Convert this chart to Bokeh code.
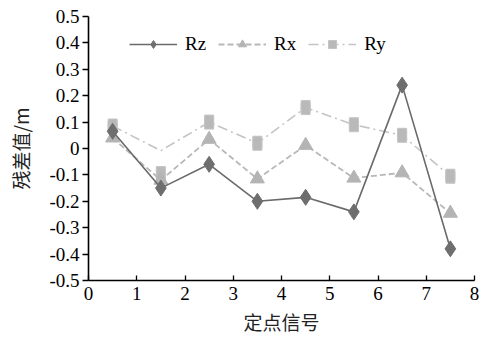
from bokeh.plotting import figure
from bokeh.models import FixedTicker, CustomJSTickFormatter, Legend, LegendItem
from bokeh.embed import file_html
from bokeh.resources import INLINE

x = [0.5, 1.5, 2.5, 3.5, 4.5, 5.5, 6.5, 7.5]
rz = [0.065, -0.15, -0.06, -0.20, -0.185, -0.24, 0.24, -0.38]
rx = [0.04, -0.12, 0.035, -0.115, 0.012, -0.112, -0.092, -0.245]
ry_line = [0.085, -0.008, 0.10, 0.02, 0.155, 0.09, 0.05, -0.105]
ry_pts = [0.085, -0.095, 0.10, 0.02, 0.155, 0.09, 0.05, -0.105]
x_ticks = [0, 1, 2, 3, 4, 5, 6, 7, 8]
y_ticks = [-0.5, -0.4, -0.3, -0.2, -0.1, 0, 0.1, 0.2, 0.3, 0.4, 0.5]

SERIF = "Liberation Serif"
CJK = "Noto Sans CJK SC"

p = figure(width=481, height=339, output_backend="svg", toolbar_location=None,
           x_range=(0, 8), y_range=(-0.5, 0.5),
           min_border_left=88, min_border_right=7, min_border_top=16, min_border_bottom=59)
p.outline_line_color = None
p.grid.visible = False
p.background_fill_color = "white"
p.border_fill_color = "white"

xa = p.xaxis[0]
xa.ticker = FixedTicker(ticks=x_ticks)
xa.major_tick_in = 5
xa.major_tick_out = 0
xa.minor_tick_line_color = None
xa.axis_line_width = 1.6
xa.major_tick_line_width = 1.3
xa.major_label_text_font = SERIF
xa.major_label_text_font_size = "19px"
xa.major_label_text_color = "black"
xa.major_label_standoff = 6
xa.axis_label = "定点信号"
xa.axis_label_text_font = CJK
xa.axis_label_text_font_size = "19px"
xa.axis_label_text_font_style = "normal"
xa.axis_label_text_color = "#222222"
xa.axis_label_standoff = 5

ya = p.yaxis[0]
ya.ticker = FixedTicker(ticks=y_ticks)
ya.formatter = CustomJSTickFormatter(code="return Math.abs(tick) < 1e-9 ? '0' : tick.toFixed(1);")
ya.major_tick_in = 0
ya.major_tick_out = 6
ya.minor_tick_line_color = None
ya.axis_line_width = 1.6
ya.major_tick_line_width = 1.3
ya.major_label_text_font = SERIF
ya.major_label_text_font_size = "19px"
ya.major_label_text_color = "black"
ya.major_label_standoff = 3
ya.axis_label = "残差值/m"
ya.axis_label_text_font = CJK
ya.axis_label_text_font_size = "19px"
ya.axis_label_text_font_style = "normal"
ya.axis_label_text_color = "#222222"
ya.axis_label_standoff = 12

# Ry
ry_l = p.line(x, ry_line, line_color="#c4c4c4", line_width=1.6, line_dash="10 4 2 4")
ry_sq = p.scatter(x, ry_pts, marker="square", size=9, fill_color="#b9b9b9", line_color="#c4c4c4")
ry_m = p.rect(x, ry_pts, width=9, height=14, width_units="screen", height_units="screen",
              fill_color="#b9b9b9", line_color="#c4c4c4")
# Rx
rx_l = p.line(x, rx, line_color="#b8b8b8", line_width=1.8, line_dash="6 3")
rx_m = p.scatter(x, rx, marker="triangle", size=14, fill_color="#b4b4b4", line_color="#b4b4b4")
# Rz
rz_l = p.line(x, rz, line_color="#6a6a6a", line_width=1.6)
rz_m = p.scatter(x, rz, marker="diamond", size=16, fill_color="#6e6e6e", line_color="#6e6e6e")

legend = Legend(items=[
    LegendItem(label="Rz", renderers=[rz_l, rz_m]),
    LegendItem(label="Rx", renderers=[rx_l, rx_m]),
    LegendItem(label="Ry", renderers=[ry_l, ry_sq]),
], orientation="horizontal", location=(41, 225))
legend.border_line_color = None
legend.background_fill_alpha = 0
legend.padding = 0
legend.margin = 0
legend.spacing = 12
legend.glyph_width = 48
legend.glyph_height = 20
legend.label_height = 20
legend.label_standoff = 8
legend.label_text_font = SERIF
legend.label_text_font_size = "19px"
legend.label_text_color = "black"
p.add_layout(legend, "center")

open("out.html", "w").write(file_html(p, INLINE))
